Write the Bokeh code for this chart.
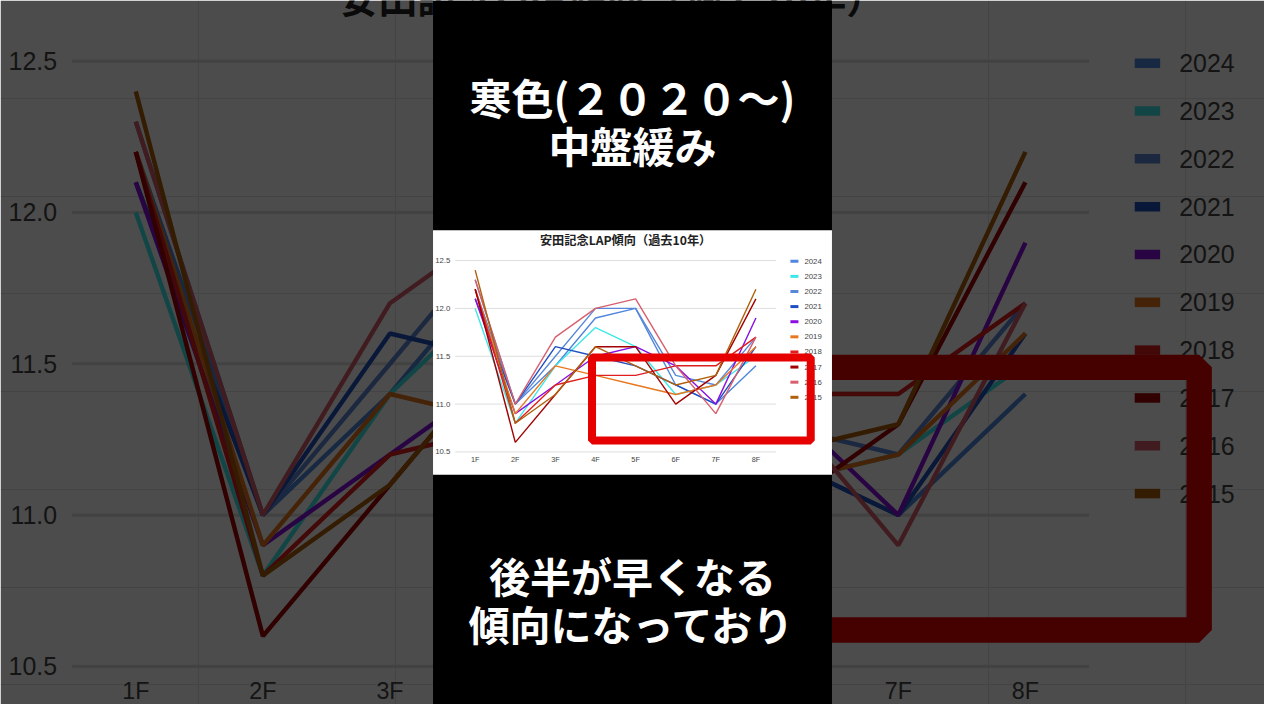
from bokeh.plotting import figure
from bokeh.models import Range1d
from bokeh.core.properties import value
from bokeh.embed import file_html
from bokeh.resources import INLINE

# data (seconds per furlong)
laps = ["1F", "2F", "3F", "4F", "5F", "6F", "7F", "8F"]
years = ["2024", "2023", "2022", "2021", "2020", "2019", "2018", "2017", "2016", "2015"]
lap_2024 = [12.2, 11.0, 11.4, 11.9, 12.0, 11.2, 11.0, 11.4]
lap_2023 = [12.0, 10.8, 11.4, 11.8, 11.6, 11.1, 11.2, 11.5]
lap_2022 = [12.3, 11.0, 11.5, 12.0, 12.0, 11.3, 11.2, 11.7]
lap_2021 = [12.1, 11.0, 11.6, 11.5, 11.4, 11.2, 11.0, 11.6]
lap_2020 = [12.1, 10.9, 11.2, 11.5, 11.6, 11.4, 11.0, 11.9]
lap_2019 = [12.2, 10.9, 11.4, 11.3, 11.2, 11.1, 11.2, 11.6]
lap_2018 = [12.2, 10.8, 11.2, 11.3, 11.3, 11.4, 11.4, 11.7]
lap_2017 = [12.2, 10.6, 11.1, 11.6, 11.6, 11.0, 11.3, 12.1]
lap_2016 = [12.3, 11.0, 11.7, 12.0, 12.1, 11.4, 10.9, 11.7]
lap_2015 = [12.4, 10.8, 11.1, 11.6, 11.4, 11.2, 11.3, 12.2]
series = [lap_2024, lap_2023, lap_2022, lap_2021, lap_2020,
          lap_2019, lap_2018, lap_2017, lap_2016, lap_2015]
colors = ["#4f86dc", "#3ee8e8", "#5a88d8", "#1f4fc0", "#8a0fe0",
          "#e8771e", "#e01e1e", "#a30000", "#d85f6e", "#b0600c"]
y_ticks = [10.5, 11.0, 11.5, 12.0, 12.5]
chart_title = "安田記念LAP傾向（過去10年）"

caption_top = ["寒色(２０２０～)", "中盤緩み"]
caption_bottom = ["後半が早くなる", "傾向になっており"]

lap_pos = list(range(len(laps)))

# screen range (1280x720 frame) + one range pair for the blown-up copy, one for the small chart
p = figure(width=1264, height=704, x_range=Range1d(0, 1280), y_range=Range1d(720, 0),
           output_backend="svg", toolbar_location=None,
           x_axis_location=None, y_axis_location=None, min_border=0)
p.outline_line_color = None
p.background_fill_color = "white"
p.border_fill_color = "white"
p.extra_x_ranges = {"big": Range1d(-1.0645, 8.8811), "mini": Range1d(-11.837, 19.682)}
p.extra_y_ranges = {"big": Range1d(10.374, 12.7003), "mini": Range1d(7.860, 15.2184)}

sans = value("Liberation Sans")
cjk = value("Noto Sans CJK JP")
fs = 0.98  # frame is a bit smaller than 1280x720


def draw_chart(rn, s):
    kw = dict(x_range_name=rn, y_range_name=rn)
    p.segment(x0=-0.5, y0=y_ticks, x1=7.5, y1=y_ticks, line_color="#dddddd",
              line_width=1 * s, **kw)
    for ys, c in zip(series, colors):
        p.line(x=lap_pos, y=ys, line_color=c, line_width=1.4 * s, **kw)
    p.text(x=-0.62, y=y_ticks, text=[f"{t:.1f}" for t in y_ticks], text_align="right",
           text_baseline="middle", text_font=sans,
           text_font_size=value(f"{8 * s * fs:.1f}px"), text_color="#444444", **kw)
    p.text(x=lap_pos, y=10.418, text=laps, text_align="center", text_baseline="middle",
           text_font=sans, text_font_size=value(f"{7.5 * s * fs:.1f}px"),
           text_color="#444444", **kw)
    p.text(x=[3.75], y=[12.715], text=[chart_title], text_align="center",
           text_baseline="middle", text_font=cjk, text_font_style="bold",
           text_font_size=value(f"{12.5 * s * fs:.1f}px"), text_color="#222222", **kw)
    # legend
    leg_y = [12.493 - i * 0.158 for i in range(len(years))]
    p.segment(x0=7.86, y0=leg_y, x1=8.06, y1=leg_y, line_color=colors,
              line_width=3 * s, **kw)
    p.text(x=8.21, y=leg_y, text=years, text_align="left", text_baseline="middle",
           text_font=sans, text_font_size=value(f"{8 * s * fs:.1f}px"),
           text_color="#444444", **kw)
    # red highlight box
    p.quad(left=[2.913], right=[8.367], top=[11.488], bottom=[10.62], fill_color=None,
           line_color="#e60000", line_width=8 * s, **kw)


# blown-up background copy, dimmed
draw_chart("big", 3.17)
p.quad(left=[0], right=[1280], top=[0], bottom=[720], fill_color="black",
       fill_alpha=0.7, line_color=None)

# black centre strip with the small chart
p.quad(left=[438], right=[842], top=[0], bottom=[720], fill_color="black", line_color=None)
p.quad(left=[438], right=[842], top=[235], bottom=[485], fill_color="white", line_color=None)
draw_chart("mini", 1.0)

# captions
p.text(x=640, y=[98, 147], text=caption_top, text_align="center", text_baseline="middle",
       text_font=cjk, text_font_style="bold", text_font_size=value("42px"), text_color="white")
p.text(x=640, y=[588, 637], text=caption_bottom, text_align="center", text_baseline="middle",
       text_font=cjk, text_font_style="bold", text_font_size=value("41px"), text_color="white")

open("out.html", "w").write(file_html(p, INLINE))
